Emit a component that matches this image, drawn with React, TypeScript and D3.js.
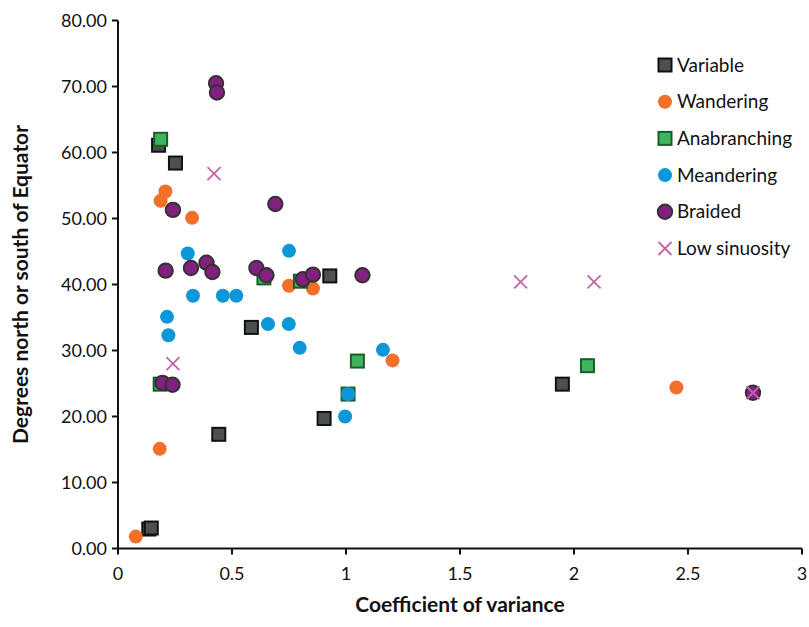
import React from "react";
import * as d3 from "d3";

// [coefficient of variance, degrees N/S]
const variable = [[0.178, 61.1], [0.252, 58.4], [0.135, 2.95], [0.146, 3.1], [0.442, 17.3], [0.585, 33.5], [0.929, 41.3], [0.904, 19.7], [1.949, 24.9]];
const wandering = [[0.078, 1.8], [0.183, 15.1], [0.187, 52.7], [0.208, 54.1], [0.325, 50.1], [0.75, 39.8], [0.855, 39.4], [1.204, 28.5], [2.449, 24.4]];
const anabranching = [[0.187, 62.0], [0.185, 24.9], [0.64, 41.0], [0.8, 40.5], [1.05, 28.4], [1.009, 23.4], [2.059, 27.7]];
const meandering = [[0.306, 44.7], [0.329, 38.3], [0.46, 38.3], [0.519, 38.3], [0.215, 35.1], [0.221, 32.3], [0.658, 34.0], [0.749, 34.0], [0.75, 45.1], [0.797, 30.4], [1.162, 30.1], [1.009, 23.4], [0.996, 20.0]];
const braided = [[0.43, 70.5], [0.434, 69.1], [0.241, 51.3], [0.69, 52.2], [0.209, 42.1], [0.32, 42.5], [0.388, 43.3], [0.414, 41.9], [0.607, 42.5], [0.651, 41.4], [0.811, 40.8], [0.855, 41.5], [1.072, 41.4], [0.195, 25.1], [0.239, 24.8], [2.785, 23.6]];
const lowSinuosity = [[0.421, 56.8], [0.241, 28.0], [1.766, 40.4], [2.088, 40.4], [2.785, 23.6]];

const xTicks = [0, 0.5, 1, 1.5, 2, 2.5, 3];
const yTicks = [0, 10, 20, 30, 40, 50, 60, 70, 80];

const series = [
  { name: "Variable", data: variable, shape: "square", fill: "#4b5053", stroke: "#111" },
  { name: "Wandering", data: wandering, shape: "circle", fill: "#f2702a", stroke: "none" },
  { name: "Anabranching", data: anabranching, shape: "square", fill: "#3fb45c", stroke: "#1a5e2c" },
  { name: "Meandering", data: meandering, shape: "circle", fill: "#0c98d8", stroke: "none" },
  { name: "Braided", data: braided, shape: "circle", fill: "#82207f", stroke: "#333" },
  { name: "Low sinuosity", data: lowSinuosity, shape: "x", fill: "none", stroke: "#c464a6" },
];

const font = "Lato, 'Open Sans', sans-serif";

function Marker({ shape, fill, stroke, cx, cy }: any) {
  if (shape === "square") {
    return <rect x={cx - 6.5} y={cy - 6.5} width={13} height={13} fill={fill} stroke={stroke} strokeWidth={2} />;
  }
  if (shape === "x") {
    return (
      <g stroke={stroke} strokeWidth={1.8}>
        <line x1={cx - 6.5} y1={cy - 6.5} x2={cx + 6.5} y2={cy + 6.5} />
        <line x1={cx - 6.5} y1={cy + 6.5} x2={cx + 6.5} y2={cy - 6.5} />
      </g>
    );
  }
  const r = stroke === "none" ? 7 : 7.2;
  return <circle cx={cx} cy={cy} r={r} fill={fill} stroke={stroke} strokeWidth={stroke === "none" ? 0 : 2} />;
}

export default function App() {
  const width = 809;
  const height = 627;
  const x = d3.scaleLinear().domain([0, 3]).range([118, 802]);
  const y = d3.scaleLinear().domain([0, 80]).range([548.5, 20.5]);

  return (
    <svg width={width} height={height} style={{ position: "absolute", left: 0, top: 0, background: "#fff" }}>
      {/* axes */}
      <g stroke="#111" strokeWidth={2} fill="none">
        <line x1={x(0)} x2={x(0)} y1={y(80)} y2={y(0)} />
        <line x1={x(0)} x2={x(3)} y1={y(0)} y2={y(0)} />
        {yTicks.map((t) => (
          <line key={"yt" + t} x1={x(0) - 6} x2={x(0)} y1={y(t)} y2={y(t)} />
        ))}
        {xTicks.map((t) => (
          <line key={"xt" + t} x1={x(t)} x2={x(t)} y1={y(0)} y2={y(0) + 6} />
        ))}
      </g>
      <g fontFamily={font} fontSize={18} fill="#111">
        {yTicks.map((t) => (
          <text key={"yl" + t} x={x(0) - 11} y={y(t)} dy="0.35em" textAnchor="end">
            {d3.format(".2f")(t)}
          </text>
        ))}
        {xTicks.map((t) => (
          <text key={"xl" + t} x={x(t)} y={y(0) + 31} textAnchor="middle">
            {String(t)}
          </text>
        ))}
      </g>
      <text x={(x(0) + x(3)) / 2} y={612} textAnchor="middle" fontFamily={font} fontWeight="bold" fontSize={21} fill="#111">
        Coefficient of variance
      </text>
      <text transform={`translate(28,${(y(0) + y(80)) / 2}) rotate(-90)`} textAnchor="middle" fontFamily={font} fontWeight="bold" fontSize={21} fill="#111">
        Degrees north or south of Equator
      </text>

      {/* points */}
      {series.map((s) => (
        <g key={s.name}>
          {s.data.map((d, i) => (
            <Marker key={i} shape={s.shape} fill={s.fill} stroke={s.stroke} cx={x(d[0])} cy={y(d[1])} />
          ))}
        </g>
      ))}

      {/* legend */}
      <g fontFamily={font} fontSize={19} fill="#111">
        {series.map((s, i) => {
          const cy = 65 + i * 36.7;
          return (
            <g key={"lg" + s.name}>
              <Marker shape={s.shape} fill={s.fill} stroke={s.stroke} cx={665} cy={cy} />
              <text x={677} y={cy} dy="0.35em">{s.name}</text>
            </g>
          );
        })}
      </g>
    </svg>
  );
}
